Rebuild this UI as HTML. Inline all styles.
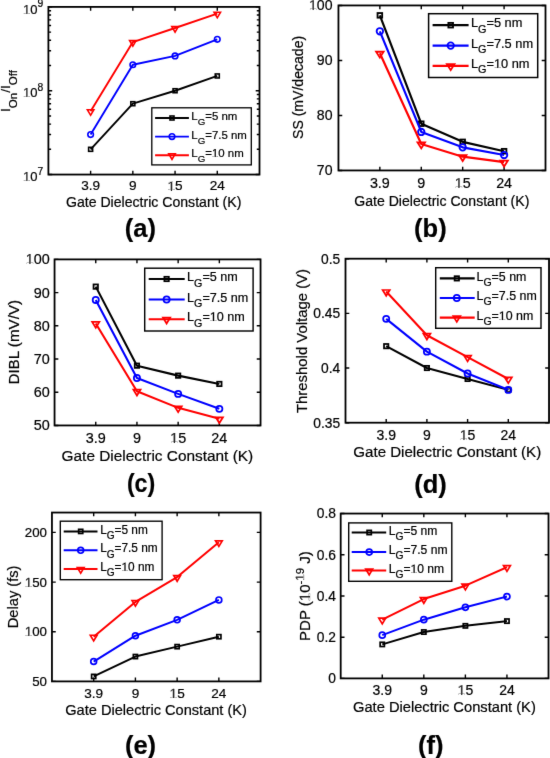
<!DOCTYPE html>
<html><head><meta charset="utf-8"><style>
html,body{margin:0;padding:0;background:#fff;}
svg{display:block;will-change:transform;}
text{font-family:"Liberation Sans", sans-serif;fill:#000;stroke:#000;stroke-width:0.2px;}
.o1{fill-opacity:0;}
</style></head><body>
<svg width="550" height="758" viewBox="0 0 550 758" xmlns="http://www.w3.org/2000/svg">
<defs><filter id="bl" filterUnits="userSpaceOnUse" x="0" y="0" width="550" height="758" color-interpolation-filters="sRGB"><feConvolveMatrix order="3" kernelMatrix="0.00524 0.06192 0.00524 0.06192 0.73137 0.06192 0.00524 0.06192 0.00524" edgeMode="duplicate" preserveAlpha="true"/></filter></defs>
<g filter="url(#bl)">
<rect width="550" height="758" fill="#fff"/>
<path d="M90.62,174.55v-3.8M90.62,6.9v3.8M132.84,174.55v-3.8M132.84,6.9v3.8M175.06,174.55v-3.8M175.06,6.9v3.8M217.28,174.55v-3.8M217.28,6.9v3.8M48.4,174.55h3.8M259.5,174.55h-3.8M48.4,90.73h3.8M259.5,90.73h-3.8M48.4,6.9h3.8M259.5,6.9h-3.8M48.4,149.32h2.7M259.5,149.32h-2.7M48.4,134.56h2.7M259.5,134.56h-2.7M48.4,124.08h2.7M259.5,124.08h-2.7M48.4,115.96h2.7M259.5,115.96h-2.7M48.4,109.32h2.7M259.5,109.32h-2.7M48.4,103.71h2.7M259.5,103.71h-2.7M48.4,98.85h2.7M259.5,98.85h-2.7M48.4,94.56h2.7M259.5,94.56h-2.7M48.4,65.49h2.7M259.5,65.49h-2.7M48.4,50.73h2.7M259.5,50.73h-2.7M48.4,40.26h2.7M259.5,40.26h-2.7M48.4,32.13h2.7M259.5,32.13h-2.7M48.4,25.5h2.7M259.5,25.5h-2.7M48.4,19.88h2.7M259.5,19.88h-2.7M48.4,15.02h2.7M259.5,15.02h-2.7M48.4,10.74h2.7M259.5,10.74h-2.7" stroke="#000" stroke-width="1.4" fill="none"/>
<path d="M90.62,149.32L132.84,103.71L175.06,90.73L217.28,75.96" stroke="#000000" stroke-width="1.9" fill="none" stroke-linejoin="round"/>
<rect x="88.62" y="147.32" width="4" height="4" fill="none" stroke="#000000" stroke-width="1.6"/>
<rect x="130.84" y="101.71" width="4" height="4" fill="none" stroke="#000000" stroke-width="1.6"/>
<rect x="173.06" y="88.73" width="4" height="4" fill="none" stroke="#000000" stroke-width="1.6"/>
<rect x="215.28" y="73.96" width="4" height="4" fill="none" stroke="#000000" stroke-width="1.6"/>
<path d="M90.62,134.56L132.84,64.77L175.06,55.94L217.28,39.36" stroke="#0000ff" stroke-width="1.9" fill="none" stroke-linejoin="round"/>
<circle cx="90.62" cy="134.56" r="2.8" fill="none" stroke="#0000ff" stroke-width="1.6"/>
<circle cx="132.84" cy="64.77" r="2.8" fill="none" stroke="#0000ff" stroke-width="1.6"/>
<circle cx="175.06" cy="55.94" r="2.8" fill="none" stroke="#0000ff" stroke-width="1.6"/>
<circle cx="217.28" cy="39.36" r="2.8" fill="none" stroke="#0000ff" stroke-width="1.6"/>
<path d="M90.62,111.19L132.84,42.12L175.06,28.01L217.28,13.68" stroke="#ff0000" stroke-width="1.9" fill="none" stroke-linejoin="round"/>
<path d="M87.37,109.74H93.87L90.62,115.29Z" fill="none" stroke="#ff0000" stroke-width="1.6"/>
<path d="M129.59,40.67H136.09L132.84,46.22Z" fill="none" stroke="#ff0000" stroke-width="1.6"/>
<path d="M171.81,26.56H178.31L175.06,32.11Z" fill="none" stroke="#ff0000" stroke-width="1.6"/>
<path d="M214.03,12.23H220.53L217.28,17.78Z" fill="none" stroke="#ff0000" stroke-width="1.6"/>
<rect x="48.4" y="6.9" width="211.1" height="167.65" fill="none" stroke="#000" stroke-width="1.8"/>
<text x="90.62" y="190" text-anchor="middle" font-size="13.6">3.9</text>
<text x="132.84" y="190" text-anchor="middle" font-size="13.6">9</text>
<text x="175.06" y="190" text-anchor="middle" font-size="13.6"><tspan class="o1">1</tspan>5</text>
<text x="217.28" y="190" text-anchor="middle" font-size="13.6">24</text>
<text x="23" y="181.25" font-size="13"><tspan class="o1">1</tspan>0<tspan dy="-6.3" font-size="10.3">7</tspan></text>
<text x="23" y="97.43" font-size="13"><tspan class="o1">1</tspan>0<tspan dy="-6.3" font-size="10.3">8</tspan></text>
<text x="23" y="13.6" font-size="13"><tspan class="o1">1</tspan>0<tspan dy="-6.3" font-size="10.3">9</tspan></text>
<text x="153.65" y="207" text-anchor="middle" font-size="14.1">Gate Dielectric Constant (K)</text>
<rect x="151.8" y="107.8" width="99.5" height="57.1" fill="#fff" stroke="#000" stroke-width="1.3"/>
<path d="M155.1,118H188.9" stroke="#000000" stroke-width="1.9"/>
<rect x="170" y="116" width="4" height="4" fill="none" stroke="#000000" stroke-width="1.6"/>
<text x="191.28" y="120.1" font-size="11.45" style="fill:#000">L<tspan dy="4.92" font-size="9.73">G</tspan><tspan dy="-4.92">=5 nm</tspan></text>
<path d="M155.1,136.6H188.9" stroke="#0000ff" stroke-width="1.9"/>
<circle cx="172" cy="136.6" r="2.8" fill="none" stroke="#0000ff" stroke-width="1.6"/>
<text x="191.28" y="138.7" font-size="11.45" style="fill:#000">L<tspan dy="4.92" font-size="9.73">G</tspan><tspan dy="-4.92">=7.5 nm</tspan></text>
<path d="M155.1,155.2H188.9" stroke="#ff0000" stroke-width="1.9"/>
<path d="M168.75,153.75H175.25L172,159.3Z" fill="none" stroke="#ff0000" stroke-width="1.6"/>
<text x="191.28" y="157.3" font-size="11.45" style="fill:#000">L<tspan dy="4.92" font-size="9.73">G</tspan><tspan dy="-4.92">=<tspan class="o1">1</tspan>0 nm</tspan></text>
<text transform="translate(140.35,236.6) scale(1.0,1)" text-anchor="middle" font-size="25.5" font-weight="bold" style="fill:#000">(a)</text>
<path d="M379.86,170.45v-3.8M379.86,5.45v3.8M421.27,170.45v-3.8M421.27,5.45v3.8M462.68,170.45v-3.8M462.68,5.45v3.8M504.09,170.45v-3.8M504.09,5.45v3.8M338.45,170.45h3.8M545.5,170.45h-3.8M338.45,115.45h3.8M545.5,115.45h-3.8M338.45,60.45h3.8M545.5,60.45h-3.8M338.45,5.45h3.8M545.5,5.45h-3.8" stroke="#000" stroke-width="1.4" fill="none"/>
<path d="M379.86,15.35L421.27,123.7L462.68,141.85L504.09,151.2" stroke="#000000" stroke-width="2.18" fill="none" stroke-linejoin="round"/>
<rect x="377.56" y="13.05" width="4.6" height="4.6" fill="none" stroke="#000000" stroke-width="1.84"/>
<rect x="418.97" y="121.4" width="4.6" height="4.6" fill="none" stroke="#000000" stroke-width="1.84"/>
<rect x="460.38" y="139.55" width="4.6" height="4.6" fill="none" stroke="#000000" stroke-width="1.84"/>
<rect x="501.79" y="148.9" width="4.6" height="4.6" fill="none" stroke="#000000" stroke-width="1.84"/>
<path d="M379.86,31.3L421.27,131.95L462.68,147.35L504.09,155.05" stroke="#0000ff" stroke-width="2.18" fill="none" stroke-linejoin="round"/>
<circle cx="379.86" cy="31.3" r="3.22" fill="none" stroke="#0000ff" stroke-width="1.84"/>
<circle cx="421.27" cy="131.95" r="3.22" fill="none" stroke="#0000ff" stroke-width="1.84"/>
<circle cx="462.68" cy="147.35" r="3.22" fill="none" stroke="#0000ff" stroke-width="1.84"/>
<circle cx="504.09" cy="155.05" r="3.22" fill="none" stroke="#0000ff" stroke-width="1.84"/>
<path d="M379.86,53.3L421.27,144.05L462.68,156.7L504.09,162.2" stroke="#ff0000" stroke-width="2.18" fill="none" stroke-linejoin="round"/>
<path d="M376.12,51.77H383.6L379.86,57.64Z" fill="none" stroke="#ff0000" stroke-width="1.84"/>
<path d="M417.53,142.52H425.01L421.27,148.39Z" fill="none" stroke="#ff0000" stroke-width="1.84"/>
<path d="M458.94,155.17H466.42L462.68,161.04Z" fill="none" stroke="#ff0000" stroke-width="1.84"/>
<path d="M500.35,160.67H507.83L504.09,166.54Z" fill="none" stroke="#ff0000" stroke-width="1.84"/>
<rect x="338.45" y="5.45" width="207.05" height="165" fill="none" stroke="#000" stroke-width="1.8"/>
<text x="379.86" y="188" text-anchor="middle" font-size="14.3">3.9</text>
<text x="421.27" y="188" text-anchor="middle" font-size="14.3">9</text>
<text x="462.68" y="188" text-anchor="middle" font-size="14.3"><tspan class="o1">1</tspan>5</text>
<text x="504.09" y="188" text-anchor="middle" font-size="14.3">24</text>
<text x="332.56" y="175.38" text-anchor="end" font-size="14.1">70</text>
<text x="332.56" y="120.38" text-anchor="end" font-size="14.1">80</text>
<text x="332.56" y="65.38" text-anchor="end" font-size="14.1">90</text>
<text x="332.56" y="10.38" text-anchor="end" font-size="14.1"><tspan class="o1">1</tspan>00</text>
<text x="441.8" y="205.6" text-anchor="middle" font-size="14.07">Gate Dielectric Constant (K)</text>
<text transform="translate(302.8,87.4) rotate(-90)" text-anchor="middle" font-size="14.07">SS (mV/decade)</text>
<rect x="428.6" y="13.7" width="109.1" height="63.8" fill="#fff" stroke="#000" stroke-width="1.49"/>
<path d="M432.6,25.2H468.6" stroke="#000000" stroke-width="2.18"/>
<rect x="448.4" y="22.9" width="4.6" height="4.6" fill="none" stroke="#000000" stroke-width="1.84"/>
<text x="470.88" y="27.3" font-size="12.8" style="fill:#000">L<tspan dy="5.5" font-size="10.88">G</tspan><tspan dy="-5.5">=5 nm</tspan></text>
<path d="M432.6,45.6H468.6" stroke="#0000ff" stroke-width="2.18"/>
<circle cx="450.7" cy="45.6" r="3.22" fill="none" stroke="#0000ff" stroke-width="1.84"/>
<text x="470.88" y="47.7" font-size="12.8" style="fill:#000">L<tspan dy="5.5" font-size="10.88">G</tspan><tspan dy="-5.5">=7.5 nm</tspan></text>
<path d="M432.6,65.8H468.6" stroke="#ff0000" stroke-width="2.18"/>
<path d="M446.96,64.27H454.44L450.7,70.14Z" fill="none" stroke="#ff0000" stroke-width="1.84"/>
<text x="470.88" y="67.9" font-size="12.8" style="fill:#000">L<tspan dy="5.5" font-size="10.88">G</tspan><tspan dy="-5.5">=<tspan class="o1">1</tspan>0 nm</tspan></text>
<text transform="translate(430.35,236.5) scale(1.0,1)" text-anchor="middle" font-size="25.5" font-weight="bold" style="fill:#000">(b)</text>
<path d="M95.75,425.45v-3.8M95.75,259.4v3.8M136.95,425.45v-3.8M136.95,259.4v3.8M178.15,425.45v-3.8M178.15,259.4v3.8M219.35,425.45v-3.8M219.35,259.4v3.8M54.55,425.45h3.8M260.55,425.45h-3.8M54.55,392.24h3.8M260.55,392.24h-3.8M54.55,359.03h3.8M260.55,359.03h-3.8M54.55,325.82h3.8M260.55,325.82h-3.8M54.55,292.61h3.8M260.55,292.61h-3.8M54.55,259.4h3.8M260.55,259.4h-3.8" stroke="#000" stroke-width="1.4" fill="none"/>
<path d="M95.75,286.63L136.95,365.67L178.15,375.63L219.35,383.94" stroke="#000000" stroke-width="2.09" fill="none" stroke-linejoin="round"/>
<rect x="93.55" y="284.43" width="4.4" height="4.4" fill="none" stroke="#000000" stroke-width="1.76"/>
<rect x="134.75" y="363.47" width="4.4" height="4.4" fill="none" stroke="#000000" stroke-width="1.76"/>
<rect x="175.95" y="373.44" width="4.4" height="4.4" fill="none" stroke="#000000" stroke-width="1.76"/>
<rect x="217.15" y="381.74" width="4.4" height="4.4" fill="none" stroke="#000000" stroke-width="1.76"/>
<path d="M95.75,299.92L136.95,377.96L178.15,393.9L219.35,408.84" stroke="#0000ff" stroke-width="2.09" fill="none" stroke-linejoin="round"/>
<circle cx="95.75" cy="299.92" r="3.08" fill="none" stroke="#0000ff" stroke-width="1.76"/>
<circle cx="136.95" cy="377.96" r="3.08" fill="none" stroke="#0000ff" stroke-width="1.76"/>
<circle cx="178.15" cy="393.9" r="3.08" fill="none" stroke="#0000ff" stroke-width="1.76"/>
<circle cx="219.35" cy="408.84" r="3.08" fill="none" stroke="#0000ff" stroke-width="1.76"/>
<path d="M95.75,323.5L136.95,391.24L178.15,407.85L219.35,418.81" stroke="#ff0000" stroke-width="2.09" fill="none" stroke-linejoin="round"/>
<path d="M92.17,321.99H99.33L95.75,327.75Z" fill="none" stroke="#ff0000" stroke-width="1.76"/>
<path d="M133.38,389.74H140.52L136.95,395.5Z" fill="none" stroke="#ff0000" stroke-width="1.76"/>
<path d="M174.57,406.34H181.72L178.15,412.11Z" fill="none" stroke="#ff0000" stroke-width="1.76"/>
<path d="M215.78,417.3H222.93L219.35,423.07Z" fill="none" stroke="#ff0000" stroke-width="1.76"/>
<rect x="54.55" y="259.4" width="206" height="166.05" fill="none" stroke="#000" stroke-width="1.8"/>
<text x="95.75" y="442.8" text-anchor="middle" font-size="14.4">3.9</text>
<text x="136.95" y="442.8" text-anchor="middle" font-size="14.4">9</text>
<text x="178.15" y="442.8" text-anchor="middle" font-size="14.4"><tspan class="o1">1</tspan>5</text>
<text x="219.35" y="442.8" text-anchor="middle" font-size="14.4">24</text>
<text x="49.68" y="430.49" text-anchor="end" font-size="14.4">50</text>
<text x="49.68" y="397.28" text-anchor="end" font-size="14.4">60</text>
<text x="49.68" y="364.07" text-anchor="end" font-size="14.4">70</text>
<text x="49.68" y="330.86" text-anchor="end" font-size="14.4">80</text>
<text x="49.68" y="297.65" text-anchor="end" font-size="14.4">90</text>
<text x="49.68" y="264.44" text-anchor="end" font-size="14.4"><tspan class="o1">1</tspan>00</text>
<text x="157.4" y="460.9" text-anchor="middle" font-size="15.4">Gate Dielectric Constant (K)</text>
<text transform="translate(18.7,342.25) rotate(-90)" text-anchor="middle" font-size="15.2">DIBL (mV/V)</text>
<rect x="144.7" y="268.2" width="108.4" height="62.8" fill="#fff" stroke="#000" stroke-width="1.43"/>
<path d="M148.7,279H184.7" stroke="#000000" stroke-width="2.09"/>
<rect x="164.4" y="276.8" width="4.4" height="4.4" fill="none" stroke="#000000" stroke-width="1.76"/>
<text x="187.09" y="281.1" font-size="12.6" style="fill:#000">L<tspan dy="5.42" font-size="10.71">G</tspan><tspan dy="-5.42">=5 nm</tspan></text>
<path d="M148.7,299.5H184.7" stroke="#0000ff" stroke-width="2.09"/>
<circle cx="166.6" cy="299.5" r="3.08" fill="none" stroke="#0000ff" stroke-width="1.76"/>
<text x="187.09" y="301.6" font-size="12.6" style="fill:#000">L<tspan dy="5.42" font-size="10.71">G</tspan><tspan dy="-5.42">=7.5 nm</tspan></text>
<path d="M148.7,319.2H184.7" stroke="#ff0000" stroke-width="2.09"/>
<path d="M163.03,317.69H170.17L166.6,323.46Z" fill="none" stroke="#ff0000" stroke-width="1.76"/>
<text x="187.09" y="321.3" font-size="12.6" style="fill:#000">L<tspan dy="5.42" font-size="10.71">G</tspan><tspan dy="-5.42">=<tspan class="o1">1</tspan>0 nm</tspan></text>
<text transform="translate(141.05,492.2) scale(0.91,1)" text-anchor="middle" font-size="25.5" font-weight="bold" style="fill:#000">(c)</text>
<path d="M386.2,422.7v-3.8M386.2,258.7v3.8M426.9,422.7v-3.8M426.9,258.7v3.8M467.6,422.7v-3.8M467.6,258.7v3.8M508.3,422.7v-3.8M508.3,258.7v3.8M345.5,422.7h3.8M549,422.7h-3.8M345.5,368.03h3.8M549,368.03h-3.8M345.5,313.37h3.8M549,313.37h-3.8M345.5,258.7h3.8M549,258.7h-3.8" stroke="#000" stroke-width="1.4" fill="none"/>
<path d="M386.2,346.17L426.9,368.03L467.6,378.97L508.3,389.9" stroke="#000000" stroke-width="2.07" fill="none" stroke-linejoin="round"/>
<rect x="384.02" y="343.99" width="4.36" height="4.36" fill="none" stroke="#000000" stroke-width="1.74"/>
<rect x="424.72" y="365.85" width="4.36" height="4.36" fill="none" stroke="#000000" stroke-width="1.74"/>
<rect x="465.42" y="376.79" width="4.36" height="4.36" fill="none" stroke="#000000" stroke-width="1.74"/>
<rect x="506.12" y="387.72" width="4.36" height="4.36" fill="none" stroke="#000000" stroke-width="1.74"/>
<path d="M386.2,318.83L426.9,351.63L467.6,373.5L508.3,389.9" stroke="#0000ff" stroke-width="2.07" fill="none" stroke-linejoin="round"/>
<circle cx="386.2" cy="318.83" r="3.05" fill="none" stroke="#0000ff" stroke-width="1.74"/>
<circle cx="426.9" cy="351.63" r="3.05" fill="none" stroke="#0000ff" stroke-width="1.74"/>
<circle cx="467.6" cy="373.5" r="3.05" fill="none" stroke="#0000ff" stroke-width="1.74"/>
<circle cx="508.3" cy="389.9" r="3.05" fill="none" stroke="#0000ff" stroke-width="1.74"/>
<path d="M386.2,291.5L426.9,335.23L467.6,357.1L508.3,378.97" stroke="#ff0000" stroke-width="2.07" fill="none" stroke-linejoin="round"/>
<path d="M382.66,290H389.74L386.2,295.74Z" fill="none" stroke="#ff0000" stroke-width="1.74"/>
<path d="M423.36,333.73H430.44L426.9,339.48Z" fill="none" stroke="#ff0000" stroke-width="1.74"/>
<path d="M464.06,355.6H471.14L467.6,361.34Z" fill="none" stroke="#ff0000" stroke-width="1.74"/>
<path d="M504.76,377.47H511.84L508.3,383.21Z" fill="none" stroke="#ff0000" stroke-width="1.74"/>
<rect x="345.5" y="258.7" width="203.5" height="164" fill="none" stroke="#000" stroke-width="1.8"/>
<text x="386.2" y="439.8" text-anchor="middle" font-size="14.0">3.9</text>
<text x="426.9" y="439.8" text-anchor="middle" font-size="14.0">9</text>
<text x="467.6" y="439.8" text-anchor="middle" font-size="14.0"><tspan class="o1">1</tspan>5</text>
<text x="508.3" y="439.8" text-anchor="middle" font-size="14.0">24</text>
<text x="340.15" y="427.53" text-anchor="end" font-size="13.8">0.35</text>
<text x="340.15" y="372.86" text-anchor="end" font-size="13.8">0.4</text>
<text x="340.15" y="318.2" text-anchor="end" font-size="13.8">0.45</text>
<text x="340.15" y="263.53" text-anchor="end" font-size="13.8">0.5</text>
<text x="447.25" y="457.4" text-anchor="middle" font-size="15.1">Gate Dielectric Constant (K)</text>
<text transform="translate(307.1,341) rotate(-90)" text-anchor="middle" font-size="14.9">Threshold Voltage (V)</text>
<rect x="435.7" y="267.7" width="105.3" height="60.6" fill="#fff" stroke="#000" stroke-width="1.42"/>
<path d="M439.8,278.4H474.7" stroke="#000000" stroke-width="2.07"/>
<rect x="454.62" y="276.22" width="4.36" height="4.36" fill="none" stroke="#000000" stroke-width="1.74"/>
<text x="476.51" y="280.5" font-size="12.4" style="fill:#000">L<tspan dy="5.33" font-size="10.54">G</tspan><tspan dy="-5.33">=5 nm</tspan></text>
<path d="M439.8,298H474.7" stroke="#0000ff" stroke-width="2.07"/>
<circle cx="456.8" cy="298" r="3.05" fill="none" stroke="#0000ff" stroke-width="1.74"/>
<text x="476.51" y="300.1" font-size="12.4" style="fill:#000">L<tspan dy="5.33" font-size="10.54">G</tspan><tspan dy="-5.33">=7.5 nm</tspan></text>
<path d="M439.8,317.6H474.7" stroke="#ff0000" stroke-width="2.07"/>
<path d="M453.26,316.1H460.34L456.8,321.84Z" fill="none" stroke="#ff0000" stroke-width="1.74"/>
<text x="476.51" y="319.7" font-size="12.4" style="fill:#000">L<tspan dy="5.33" font-size="10.54">G</tspan><tspan dy="-5.33">=<tspan class="o1">1</tspan>0 nm</tspan></text>
<text transform="translate(430.5,492.5) scale(1.0,1)" text-anchor="middle" font-size="25.5" font-weight="bold" style="fill:#000">(d)</text>
<path d="M93.68,681.4v-3.8M93.68,512.55v3.8M135.41,681.4v-3.8M135.41,512.55v3.8M177.14,681.4v-3.8M177.14,512.55v3.8M218.87,681.4v-3.8M218.87,512.55v3.8M51.95,681.4h3.8M260.6,681.4h-3.8M51.95,631.74h3.8M260.6,631.74h-3.8M51.95,582.08h3.8M260.6,582.08h-3.8M51.95,532.41h3.8M260.6,532.41h-3.8" stroke="#000" stroke-width="1.4" fill="none"/>
<path d="M93.68,676.43L135.41,656.57L177.14,646.64L218.87,636.7" stroke="#000000" stroke-width="1.98" fill="none" stroke-linejoin="round"/>
<rect x="91.6" y="674.35" width="4.16" height="4.16" fill="none" stroke="#000000" stroke-width="1.66"/>
<rect x="133.33" y="654.49" width="4.16" height="4.16" fill="none" stroke="#000000" stroke-width="1.66"/>
<rect x="175.06" y="644.56" width="4.16" height="4.16" fill="none" stroke="#000000" stroke-width="1.66"/>
<rect x="216.79" y="634.62" width="4.16" height="4.16" fill="none" stroke="#000000" stroke-width="1.66"/>
<path d="M93.68,661.54L135.41,635.71L177.14,619.82L218.87,599.95" stroke="#0000ff" stroke-width="1.98" fill="none" stroke-linejoin="round"/>
<circle cx="93.68" cy="661.54" r="2.91" fill="none" stroke="#0000ff" stroke-width="1.66"/>
<circle cx="135.41" cy="635.71" r="2.91" fill="none" stroke="#0000ff" stroke-width="1.66"/>
<circle cx="177.14" cy="619.82" r="2.91" fill="none" stroke="#0000ff" stroke-width="1.66"/>
<circle cx="218.87" cy="599.95" r="2.91" fill="none" stroke="#0000ff" stroke-width="1.66"/>
<path d="M93.68,636.7L135.41,601.94L177.14,577.11L218.87,542.35" stroke="#ff0000" stroke-width="1.98" fill="none" stroke-linejoin="round"/>
<path d="M90.3,635.23H97.06L93.68,640.87Z" fill="none" stroke="#ff0000" stroke-width="1.66"/>
<path d="M132.03,600.47H138.79L135.41,606.11Z" fill="none" stroke="#ff0000" stroke-width="1.66"/>
<path d="M173.76,575.64H180.52L177.14,581.28Z" fill="none" stroke="#ff0000" stroke-width="1.66"/>
<path d="M215.49,540.87H222.25L218.87,546.51Z" fill="none" stroke="#ff0000" stroke-width="1.66"/>
<rect x="51.95" y="512.55" width="208.65" height="168.85" fill="none" stroke="#000" stroke-width="1.8"/>
<text x="93.68" y="697.8" text-anchor="middle" font-size="13.6">3.9</text>
<text x="135.41" y="697.8" text-anchor="middle" font-size="13.6">9</text>
<text x="177.14" y="697.8" text-anchor="middle" font-size="13.6"><tspan class="o1">1</tspan>5</text>
<text x="218.87" y="697.8" text-anchor="middle" font-size="13.6">24</text>
<text x="47.03" y="686.05" text-anchor="end" font-size="13.3">50</text>
<text x="47.03" y="636.39" text-anchor="end" font-size="13.3"><tspan class="o1">1</tspan>00</text>
<text x="47.03" y="586.73" text-anchor="end" font-size="13.3"><tspan class="o1">1</tspan>50</text>
<text x="47.03" y="537.07" text-anchor="end" font-size="13.3">200</text>
<text x="156.1" y="714.9" text-anchor="middle" font-size="14.6">Gate Dielectric Constant (K)</text>
<text transform="translate(17.5,596.9) rotate(-90)" text-anchor="middle" font-size="14.7">Delay (fs)</text>
<rect x="60.3" y="521.2" width="101.8" height="58.5" fill="#fff" stroke="#000" stroke-width="1.35"/>
<path d="M63.7,531.4H97.5" stroke="#000000" stroke-width="1.98"/>
<rect x="78.62" y="529.32" width="4.16" height="4.16" fill="none" stroke="#000000" stroke-width="1.66"/>
<text x="100.15" y="533.5" font-size="11.85" style="fill:#000">L<tspan dy="5.1" font-size="10.07">G</tspan><tspan dy="-5.1">=5 nm</tspan></text>
<path d="M63.7,550.3H97.5" stroke="#0000ff" stroke-width="1.98"/>
<circle cx="80.7" cy="550.3" r="2.91" fill="none" stroke="#0000ff" stroke-width="1.66"/>
<text x="100.15" y="552.4" font-size="11.85" style="fill:#000">L<tspan dy="5.1" font-size="10.07">G</tspan><tspan dy="-5.1">=7.5 nm</tspan></text>
<path d="M63.7,569.1H97.5" stroke="#ff0000" stroke-width="1.98"/>
<path d="M77.32,567.63H84.08L80.7,573.26Z" fill="none" stroke="#ff0000" stroke-width="1.66"/>
<text x="100.15" y="571.2" font-size="11.85" style="fill:#000">L<tspan dy="5.1" font-size="10.07">G</tspan><tspan dy="-5.1">=<tspan class="o1">1</tspan>0 nm</tspan></text>
<text transform="translate(140.5,753.6) scale(1.0,1)" text-anchor="middle" font-size="25.5" font-weight="bold" style="fill:#000">(e)</text>
<path d="M382.26,678.4v-3.8M382.26,513.55v3.8M423.82,678.4v-3.8M423.82,513.55v3.8M465.38,678.4v-3.8M465.38,513.55v3.8M506.94,678.4v-3.8M506.94,513.55v3.8M340.7,678.4h3.8M548.5,678.4h-3.8M340.7,637.19h3.8M548.5,637.19h-3.8M340.7,595.97h3.8M548.5,595.97h-3.8M340.7,554.76h3.8M548.5,554.76h-3.8M340.7,513.55h3.8M548.5,513.55h-3.8" stroke="#000" stroke-width="1.4" fill="none"/>
<path d="M382.26,644.4L423.82,632.04L465.38,625.85L506.94,621.11" stroke="#000000" stroke-width="2.01" fill="none" stroke-linejoin="round"/>
<rect x="380.14" y="642.28" width="4.24" height="4.24" fill="none" stroke="#000000" stroke-width="1.7"/>
<rect x="421.7" y="629.92" width="4.24" height="4.24" fill="none" stroke="#000000" stroke-width="1.7"/>
<rect x="463.26" y="623.73" width="4.24" height="4.24" fill="none" stroke="#000000" stroke-width="1.7"/>
<rect x="504.82" y="618.99" width="4.24" height="4.24" fill="none" stroke="#000000" stroke-width="1.7"/>
<path d="M382.26,635.13L423.82,619.67L465.38,607.31L506.94,596.59" stroke="#0000ff" stroke-width="2.01" fill="none" stroke-linejoin="round"/>
<circle cx="382.26" cy="635.13" r="2.97" fill="none" stroke="#0000ff" stroke-width="1.7"/>
<circle cx="423.82" cy="619.67" r="2.97" fill="none" stroke="#0000ff" stroke-width="1.7"/>
<circle cx="465.38" cy="607.31" r="2.97" fill="none" stroke="#0000ff" stroke-width="1.7"/>
<circle cx="506.94" cy="596.59" r="2.97" fill="none" stroke="#0000ff" stroke-width="1.7"/>
<path d="M382.26,619.67L423.82,599.07L465.38,585.67L506.94,567.13" stroke="#ff0000" stroke-width="2.01" fill="none" stroke-linejoin="round"/>
<path d="M378.81,618.19H385.7L382.26,623.87Z" fill="none" stroke="#ff0000" stroke-width="1.7"/>
<path d="M420.38,597.58H427.26L423.82,603.26Z" fill="none" stroke="#ff0000" stroke-width="1.7"/>
<path d="M461.94,584.19H468.82L465.38,589.87Z" fill="none" stroke="#ff0000" stroke-width="1.7"/>
<path d="M503.5,565.64H510.38L506.94,571.32Z" fill="none" stroke="#ff0000" stroke-width="1.7"/>
<rect x="340.7" y="513.55" width="207.8" height="164.85" fill="none" stroke="#000" stroke-width="1.8"/>
<text x="382.26" y="694.7" text-anchor="middle" font-size="14.0">3.9</text>
<text x="423.82" y="694.7" text-anchor="middle" font-size="14.0">9</text>
<text x="465.38" y="694.7" text-anchor="middle" font-size="14.0"><tspan class="o1">1</tspan>5</text>
<text x="506.94" y="694.7" text-anchor="middle" font-size="14.0">24</text>
<text x="336.05" y="683.23" text-anchor="end" font-size="13.8">0</text>
<text x="336.05" y="642.02" text-anchor="end" font-size="13.8">0.2</text>
<text x="336.05" y="600.8" text-anchor="end" font-size="13.8">0.4</text>
<text x="336.05" y="559.59" text-anchor="end" font-size="13.8">0.6</text>
<text x="336.05" y="518.38" text-anchor="end" font-size="13.8">0.8</text>
<text x="444.4" y="712.2" text-anchor="middle" font-size="14.7">Gate Dielectric Constant (K)</text>
<rect x="348.7" y="522.9" width="103.1" height="58.4" fill="#fff" stroke="#000" stroke-width="1.38"/>
<path d="M351.7,532.5H386.2" stroke="#000000" stroke-width="2.01"/>
<rect x="367.08" y="530.38" width="4.24" height="4.24" fill="none" stroke="#000000" stroke-width="1.7"/>
<text x="388.73" y="534.6" font-size="12.1" style="fill:#000">L<tspan dy="5.2" font-size="10.29">G</tspan><tspan dy="-5.2">=5 nm</tspan></text>
<path d="M351.7,552.1H386.2" stroke="#0000ff" stroke-width="2.01"/>
<circle cx="369.2" cy="552.1" r="2.97" fill="none" stroke="#0000ff" stroke-width="1.7"/>
<text x="388.73" y="554.2" font-size="12.1" style="fill:#000">L<tspan dy="5.2" font-size="10.29">G</tspan><tspan dy="-5.2">=7.5 nm</tspan></text>
<path d="M351.7,570.6H386.2" stroke="#ff0000" stroke-width="2.01"/>
<path d="M365.75,569.12H372.64L369.2,574.8Z" fill="none" stroke="#ff0000" stroke-width="1.7"/>
<text x="388.73" y="572.7" font-size="12.1" style="fill:#000">L<tspan dy="5.2" font-size="10.29">G</tspan><tspan dy="-5.2">=<tspan class="o1">1</tspan>0 nm</tspan></text>
<text transform="translate(430.7,753.5) scale(1.0,1)" text-anchor="middle" font-size="25.5" font-weight="bold" style="fill:#000">(f)</text>
<text transform="translate(9.9,91.0) rotate(-90)" text-anchor="middle" font-size="13.7">I<tspan dy="7" font-size="11.5">On</tspan><tspan dy="-7">/I</tspan><tspan dy="7" font-size="11.5">Off</tspan></text>
<text transform="translate(310,596.1) rotate(-90)" text-anchor="middle" font-size="15">PDP (<tspan class="o1">1</tspan>0<tspan dy="-6.5" font-size="11.4">-<tspan class="o1">1</tspan>9</tspan><tspan dy="6.5"> J)</tspan></text>
<path d="M515 0V1237L197 1010V1180L530 1409H696V0Z" fill="rgb(38, 38, 38)" transform="matrix(1.00000,0.00000,0.00000,1.00000,0.000,0.000) translate(167.438,191.000) scale(0.006641,-0.006641)"/>
<path d="M515 0V1237L197 1010V1180L530 1409H696V0Z" fill="rgb(38, 38, 38)" transform="matrix(1.00000,0.00000,0.00000,1.00000,0.000,0.000) translate(23.000,181.000) scale(0.006348,-0.006348)"/>
<path d="M515 0V1237L197 1010V1180L530 1409H696V0Z" fill="rgb(38, 38, 38)" transform="matrix(1.00000,0.00000,0.00000,1.00000,0.000,0.000) translate(23.000,97.000) scale(0.006348,-0.006348)"/>
<path d="M515 0V1237L197 1010V1180L530 1409H696V0Z" fill="rgb(38, 38, 38)" transform="matrix(1.00000,0.00000,0.00000,1.00000,0.000,0.000) translate(23.000,14.000) scale(0.006348,-0.006348)"/>
<path d="M515 0V1237L197 1010V1180L530 1409H696V0Z" fill="rgb(0, 0, 0)" transform="matrix(1.00000,0.00000,0.00000,1.00000,0.000,0.000) translate(211.905,157.000) scale(0.005591,-0.005591)"/>
<path d="M515 0V1237L197 1010V1180L530 1409H696V0Z" fill="rgb(38, 38, 38)" transform="matrix(1.00000,0.00000,0.00000,1.00000,0.000,0.000) translate(454.727,188.000) scale(0.006982,-0.006982)"/>
<path d="M515 0V1237L197 1010V1180L530 1409H696V0Z" fill="rgb(38, 38, 38)" transform="matrix(1.00000,0.00000,0.00000,1.00000,0.000,0.000) translate(309.029,10.000) scale(0.006885,-0.006885)"/>
<path d="M515 0V1237L197 1010V1180L530 1409H696V0Z" fill="rgb(0, 0, 0)" transform="matrix(1.00000,0.00000,0.00000,1.00000,0.000,0.000) translate(493.958,68.000) scale(0.006250,-0.006250)"/>
<path d="M515 0V1237L197 1010V1180L530 1409H696V0Z" fill="rgb(38, 38, 38)" transform="matrix(1.00000,0.00000,0.00000,1.00000,0.000,0.000) translate(170.134,443.000) scale(0.007031,-0.007031)"/>
<path d="M515 0V1237L197 1010V1180L530 1409H696V0Z" fill="rgb(38, 38, 38)" transform="matrix(1.00000,0.00000,0.00000,1.00000,0.000,0.000) translate(25.649,264.000) scale(0.007031,-0.007031)"/>
<path d="M515 0V1237L197 1010V1180L530 1409H696V0Z" fill="rgb(0, 0, 0)" transform="matrix(1.00000,0.00000,0.00000,1.00000,0.000,0.000) translate(209.793,321.000) scale(0.006152,-0.006152)"/>
<path d="M515 0V1237L197 1010V1180L530 1409H696V0Z" fill="rgb(38, 38, 38)" transform="matrix(1.00000,0.00000,0.00000,1.00000,0.000,0.000) translate(459.803,440.000) scale(0.006836,-0.006836)"/>
<path d="M515 0V1237L197 1010V1180L530 1409H696V0Z" fill="rgb(0, 0, 0)" transform="matrix(1.00000,0.00000,0.00000,1.00000,0.000,0.000) translate(498.869,320.000) scale(0.006055,-0.006055)"/>
<path d="M515 0V1237L197 1010V1180L530 1409H696V0Z" fill="rgb(38, 38, 38)" transform="matrix(1.00000,0.00000,0.00000,1.00000,0.000,0.000) translate(169.577,698.000) scale(0.006641,-0.006641)"/>
<path d="M515 0V1237L197 1010V1180L530 1409H696V0Z" fill="rgb(38, 38, 38)" transform="matrix(1.00000,0.00000,0.00000,1.00000,0.000,0.000) translate(24.827,636.000) scale(0.006494,-0.006494)"/>
<path d="M515 0V1237L197 1010V1180L530 1409H696V0Z" fill="rgb(38, 38, 38)" transform="matrix(1.00000,0.00000,0.00000,1.00000,0.000,0.000) translate(24.827,587.000) scale(0.006494,-0.006494)"/>
<path d="M515 0V1237L197 1010V1180L530 1409H696V0Z" fill="rgb(0, 0, 0)" transform="matrix(1.00000,0.00000,0.00000,1.00000,0.000,0.000) translate(121.494,571.000) scale(0.005786,-0.005786)"/>
<path d="M515 0V1237L197 1010V1180L530 1409H696V0Z" fill="rgb(38, 38, 38)" transform="matrix(1.00000,0.00000,0.00000,1.00000,0.000,0.000) translate(457.583,695.000) scale(0.006836,-0.006836)"/>
<path d="M515 0V1237L197 1010V1180L530 1409H696V0Z" fill="rgb(0, 0, 0)" transform="matrix(1.00000,0.00000,0.00000,1.00000,0.000,0.000) translate(410.543,573.000) scale(0.005908,-0.005908)"/>
<path d="M515 0V1237L197 1010V1180L530 1409H696V0Z" fill="rgb(38, 38, 38)" transform="matrix(0.00000,-1.00000,1.00000,0.00000,310.000,596.100) translate(-5.055,0.000) scale(0.007324,-0.007324)"/>
<path d="M515 0V1237L197 1010V1180L530 1409H696V0Z" fill="rgb(38, 38, 38)" transform="matrix(0.00000,-1.00000,1.00000,0.00000,310.000,596.100) translate(15.430,-6.500) scale(0.005566,-0.005566)"/>
</g>
</svg>
</body></html>
